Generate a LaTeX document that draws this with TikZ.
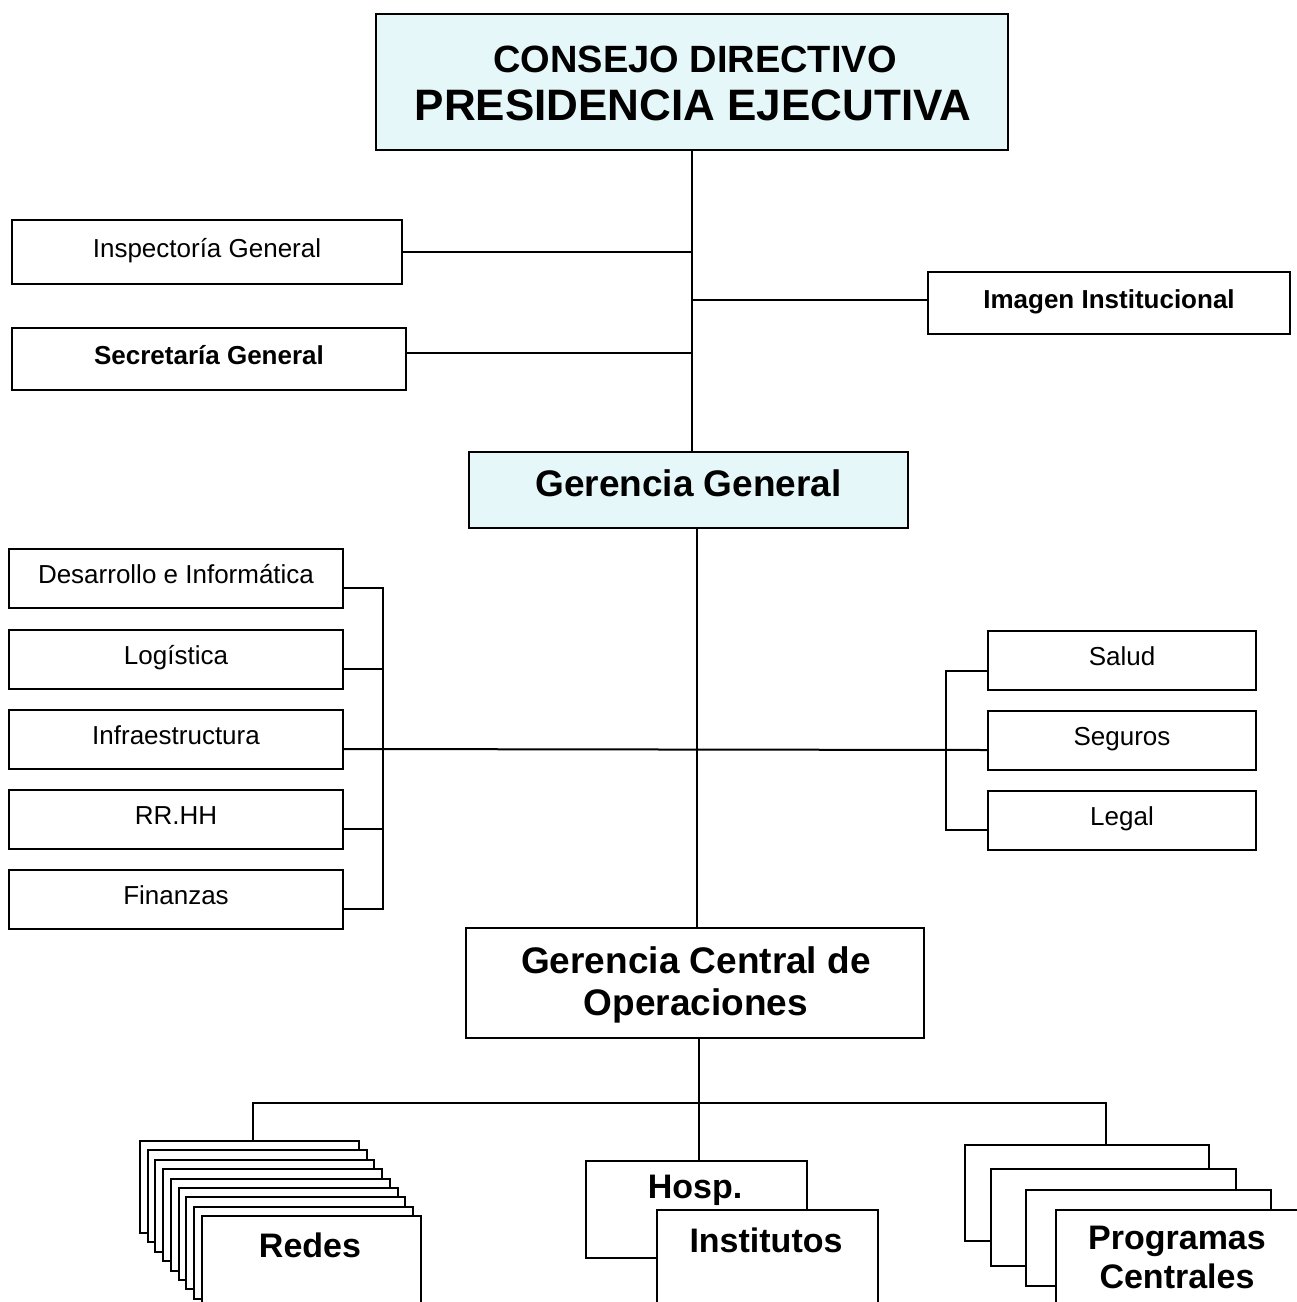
\documentclass[tikz,border=0pt]{standalone}
\usepackage{fontspec}
\setmainfont{Liberation Sans}
\definecolor{paleblue}{RGB}{230,247,250}
\tikzset{
  frame/.style={draw=black, line width=2pt, fill=white, rectangle, inner sep=0pt},
  headframe/.style={frame, fill=paleblue},
  small/.style={font=\fontsize{26}{31}\selectfont, text height=19pt, text depth=9pt},
  smallbold/.style={font=\bfseries\fontsize{26}{31}\selectfont, text height=19pt, text depth=9pt},
  big/.style={font=\bfseries\fontsize{37}{42}\selectfont, align=center},
  unit/.style={font=\bfseries\fontsize{34}{40}\selectfont, inner sep=0pt},
  link/.style={line width=2pt},
}
\begin{document}
\begin{tikzpicture}[x=1pt,y=-1pt]
\useasboundingbox (0,0) rectangle (1297,1302);
\clip (0,0) rectangle (1297,1302);

% --- governing bodies
\node[headframe, minimum width=632pt, minimum height=136pt] (top) at (692,82) {};
\node[font=\bfseries\fontsize{38}{44}\selectfont, anchor=base, inner sep=0pt] (consejo) at (695,72) {CONSEJO DIRECTIVO};
\node[font=\bfseries\fontsize{44}{50}\selectfont, anchor=base, inner sep=0pt] (presid) at (693,120) {PRESIDENCIA EJECUTIVA};

\node[frame, small, minimum width=390pt, minimum height=64pt] (insp) at (207,252) {Inspectoría General};
\node[frame, smallbold, minimum width=394pt, minimum height=62pt] (secr) at (209,359) {Secretaría General};
\node[frame, smallbold, minimum width=362pt, minimum height=62pt] (imag) at (1109,303) {Imagen Institucional};

\node[headframe, font=\bfseries\fontsize{37}{42}\selectfont, text height=27pt, text depth=14.5pt,
      minimum width=439pt, minimum height=76pt] (gg) at (688.5,490) {Gerencia General};

% --- support offices (left) and advisory offices (right)
\foreach \nm/\txt/\yy in {desa/Desarrollo e Informática/578, logi/Logística/659, infra/Infraestructura/739, rrhh/RR.HH/819, fin/Finanzas/899}
  \node[frame, small, minimum width=334pt, minimum height=59pt] (\nm) at (176,\yy) {\txt};
\foreach \nm/\txt/\yy in {salud/Salud/660.5, segu/Seguros/740, legal/Legal/820}
  \node[frame, small, minimum width=268pt, minimum height=59pt] (\nm) at (1122,\yy) {\txt};

\node[frame, big, minimum width=458pt, minimum height=110pt] (gco) at (695,983) {};
\node[big, inner sep=0pt] (gcolbl) at (696,985) {Gerencia Central de\\Operaciones};

% --- bus coordinates
\coordinate (lbus) at (383,749);
\coordinate (rbus) at (946,749);
\coordinate (bar) at (699,1103);

% --- upper connectors
\draw[link] (top.south) -- (top.south |- gg.north);
\draw[link] (insp.east) -- (insp.east -| top.south);
\draw[link] ([yshift=6pt]secr.east) -- ([yshift=6pt]secr.east -| top.south);
\draw[link] ([yshift=3pt]imag.west) -- ([yshift=3pt]imag.west -| top.south);

% --- middle connectors
\draw[link] ([xshift=8pt]gg.south) -- ([xshift=8pt]gg.south |- gco.north);
\draw[link] ([yshift=-10pt]infra.east) -- ([yshift=-10pt]segu.west);
\draw[link] ([yshift=-10pt]desa.east) -| (lbus) |- ([yshift=-10pt]fin.east);
\draw[link] ([yshift=-10pt]logi.east) -- ([yshift=-10pt]logi.east -| lbus);
\draw[link] ([yshift=-10pt]rrhh.east) -- ([yshift=-10pt]rrhh.east -| lbus);
\draw[link] ([yshift=-10pt]salud.west) -| (rbus) |- ([yshift=-10pt]legal.west);

% --- lower units: stacked networks
\foreach \i in {0,...,8}
  \node[frame, minimum width=219pt, minimum height=92pt, anchor=north west] (red\i) at ({139+7.7*\i},{1140+9.4*\i}) {};
\node[unit] (redes) at (310,1245) {Redes};

% --- hospitals and institutes
\node[frame, minimum width=221pt, minimum height=97pt, anchor=north west] (hosp) at (585,1160) {};
\node[unit] (hosplbl) at (695,1190) {Hosp.};
\node[frame, minimum width=221pt, minimum height=97pt, anchor=north west] (inst) at (656,1209) {};
\node[unit] (instlbl) at (766,1240) {Institutos};

% --- central programmes
\node[frame, minimum width=244pt, minimum height=96pt, anchor=north west] (prog0) at (964,1144) {};
\node[frame, minimum width=245pt, minimum height=97pt, anchor=north west] (prog1) at (990,1168) {};
\node[frame, minimum width=245pt, minimum height=96pt, anchor=north west] (prog2) at (1025,1189) {};
\node[frame, minimum width=244pt, minimum height=97pt, anchor=north west] (prog3) at (1055,1209) {};
\node[unit, align=center, font=\bfseries\fontsize{34}{39}\selectfont] (proglbl) at (1177,1257) {Programas\\Centrales};

% --- lower connectors
\draw[link] ([xshift=4pt]gco.south) -- ([xshift=4pt]gco.south |- hosp.north);
\draw[link] ([xshift=3pt]red0.north) |- (bar) -| ([xshift=19pt]prog0.north);
\end{tikzpicture}
\end{document}
